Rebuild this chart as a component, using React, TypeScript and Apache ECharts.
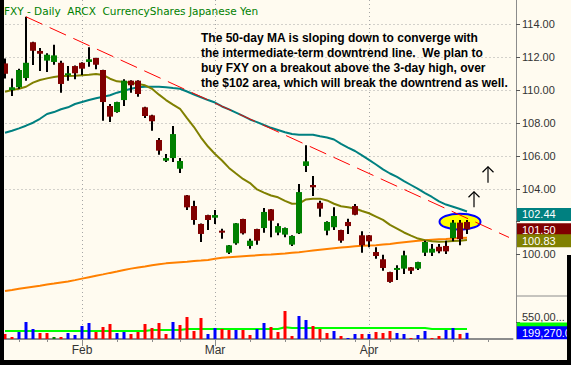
import React, { useEffect, useRef } from 'react';
import * as echarts from 'echarts';

const FONT = '"Liberation Sans", Arial, Helvetica, sans-serif';
const TITLE_FONT = '"DejaVu Sans", Verdana, sans-serif';

// trading days (last six are empty future slots)
const dates: string[] = [
  '2009-01-15', '2009-01-16', '2009-01-20', '2009-01-21', '2009-01-22', '2009-01-23', '2009-01-26', '2009-01-27', '2009-01-28', '2009-01-29', '2009-01-30',
  '2009-02-02', '2009-02-03', '2009-02-04', '2009-02-05', '2009-02-06', '2009-02-09', '2009-02-10', '2009-02-11', '2009-02-12', '2009-02-13',
  '2009-02-17', '2009-02-18', '2009-02-19', '2009-02-20', '2009-02-23', '2009-02-24', '2009-02-25', '2009-02-26', '2009-02-27',
  '2009-03-02', '2009-03-03', '2009-03-04', '2009-03-05', '2009-03-06', '2009-03-09', '2009-03-10', '2009-03-11', '2009-03-12', '2009-03-13',
  '2009-03-16', '2009-03-17', '2009-03-18', '2009-03-19', '2009-03-20', '2009-03-23', '2009-03-24', '2009-03-25', '2009-03-26', '2009-03-27',
  '2009-03-30', '2009-03-31',
  '2009-04-01', '2009-04-02', '2009-04-03', '2009-04-06', '2009-04-07', '2009-04-08', '2009-04-09', '2009-04-13', '2009-04-14', '2009-04-15',
  '2009-04-16', '2009-04-17', '2009-04-20', '2009-04-21', '2009-04-22',
  '2009-04-23', '2009-04-24', '2009-04-27', '2009-04-28', '2009-04-29', '2009-04-30',
];

const opens = [
  111.63, 110.01, 110.18, 110.74, 112.92, 112.39, 111.80, 111.72, 111.67, 110.91, 111.47,
  111.67, 111.72, 111.96, 111.23, 109.04, 108.67, 109.40, 110.58, 110.58, 108.96,
  108.47, 106.97, 105.71, 105.87, 105.22, 103.60, 102.95, 101.86, 102.40,
  102.24, 101.45, 100.11, 100.68, 102.16, 100.52, 101.55, 101.61, 102.75, 101.33,
  101.21, 100.60, 101.29, 105.39, 104.23, 103.15, 101.45, 101.66, 101.49, 101.98,
  102.95, 101.17,
  101.17, 100.15, 99.71, 98.93, 99.06, 99.14, 99.22, 99.14, 100.11, 100.11,
  100.47, 100.52, 101.00, 101.94, 101.98,
];
const closes = [
  111.00, 110.18, 111.23, 111.67, 112.40, 112.22, 112.16, 112.12, 110.38, 111.03, 111.03,
  111.31, 111.88, 111.55, 109.28, 108.39, 109.28, 110.58, 110.30, 109.77, 108.43,
  108.11, 106.32, 105.87, 107.33, 105.69, 102.87, 102.10, 101.25, 102.10,
  102.40, 101.33, 100.56, 101.90, 101.29, 100.84, 100.84, 102.59, 102.06, 101.73,
  101.61, 101.13, 103.80, 105.67, 104.09, 102.79, 101.98, 102.34, 100.84, 101.73,
  102.42, 100.56,
  100.80, 99.91, 99.18, 98.33, 99.18, 99.95, 99.01, 99.54, 100.76, 100.35,
  100.19, 100.19, 101.94, 100.93, 101.53,
];
const highs = [
  111.93, 110.72, 111.31, 114.47, 112.95, 112.57, 112.25, 112.77, 111.80, 111.47, 111.50,
  111.70, 112.61, 111.98, 111.25, 109.16, 109.30, 110.66, 110.60, 110.60, 109.00,
  108.50, 107.09, 106.12, 107.82, 105.87, 103.62, 103.27, 101.88, 102.42,
  102.71, 101.57, 100.58, 101.92, 102.18, 100.96, 101.57, 102.83, 102.77, 101.90,
  101.65, 101.17, 104.29, 106.65, 104.78, 103.27, 102.02, 102.87, 101.51, 102.18,
  103.07, 101.41,
  101.19, 100.44, 99.99, 98.95, 99.34, 100.23, 99.24, 99.56, 100.84, 100.64,
  100.64, 100.84, 102.10, 102.10, 102.10,
];
const lows = [
  110.71, 109.65, 110.09, 110.58, 111.53, 111.17, 111.11, 111.55, 109.85, 110.58, 110.66,
  110.93, 111.43, 111.27, 108.14, 108.06, 108.63, 109.04, 109.85, 109.60, 108.31,
  107.53, 106.07, 105.63, 105.63, 104.96, 102.71, 101.81, 100.76, 101.49,
  101.86, 100.96, 100.03, 100.60, 101.21, 100.35, 100.60, 101.33, 101.05, 101.17,
  101.05, 100.52, 101.25, 105.02, 103.56, 102.30, 101.17, 101.49, 100.72, 101.25,
  102.39, 100.11,
  100.44, 99.74, 99.01, 98.28, 98.45, 98.81, 98.81, 99.06, 99.91, 99.91,
  100.07, 100.03, 100.80, 100.56, 101.25,
];

// 20-day (olive), 50-day (teal) and 200-day (orange) moving averages as drawn
const ma20 = [
  109.91, 110.01, 110.09, 110.21, 110.46, 110.62, 110.72, 110.80, 110.86, 110.86, 110.88,
  110.91, 110.94, 110.99, 110.93, 110.70, 110.54, 110.50, 110.46, 110.38, 110.30,
  110.09, 109.73, 109.40, 109.12, 108.87, 108.30, 107.76, 107.12, 106.57,
  106.12, 105.72, 105.27, 104.93, 104.60, 104.35, 103.96, 103.77, 103.59, 103.48,
  103.26, 103.09, 103.10, 103.35, 103.40, 103.40, 103.29, 103.09, 102.94, 102.88,
  102.80, 102.65,
  102.51, 102.31, 102.11, 101.80, 101.58, 101.34, 101.15, 100.97, 100.87, 100.81,
  100.78, 100.79, 100.82, 100.84, 100.88,
];
const ma50 = [
  107.41, 107.53, 107.68, 107.84, 108.02, 108.26, 108.55, 108.67, 108.84, 108.96, 109.16,
  109.28, 109.40, 109.51, 109.60, 109.69, 109.85, 109.97, 110.09, 110.18, 110.21,
  110.21, 110.21, 110.18, 110.13, 110.09, 109.92, 109.74, 109.57, 109.40,
  109.25, 109.01, 108.83, 108.64, 108.44, 108.22, 108.06, 107.88, 107.71, 107.58,
  107.44, 107.33, 107.29, 107.29, 107.29, 107.20, 107.12, 107.00, 106.73, 106.51,
  106.30, 106.03,
  105.76, 105.48, 105.18, 104.93, 104.72, 104.47, 104.23, 103.99, 103.74, 103.50,
  103.23, 103.04, 102.91, 102.77, 102.62,
];
const ma200 = [
  97.78, 97.84, 97.91, 97.98, 98.04, 98.10, 98.17, 98.23, 98.30, 98.36, 98.44,
  98.53, 98.62, 98.71, 98.79, 98.88, 98.96, 99.05, 99.14, 99.21, 99.27,
  99.34, 99.40, 99.46, 99.50, 99.53, 99.56, 99.60, 99.63, 99.67,
  99.74, 99.80, 99.83, 99.86, 99.89, 99.92, 99.95, 99.98, 100.00, 100.03,
  100.06, 100.10, 100.14, 100.19, 100.24, 100.29, 100.34, 100.38, 100.42, 100.46,
  100.50, 100.53,
  100.55, 100.57, 100.61, 100.64, 100.70, 100.75, 100.79, 100.83, 100.86, 100.90,
  100.93, 100.95, 100.98, 101.00, 101.02,
];

// volume and its direction vs previous close (1 up, -1 down, 0 unchanged)
const volumes = [
  162000, 65000, 227000, 551000, 324000, 194000, 194000, 65000, 65000, 194000, 130000,
  421000, 518000, 227000, 389000, 486000, 194000, 227000, 162000, 227000, 486000,
  356000, 518000, 162000, 551000, 454000, 713000, 259000, 680000, 162000,
  356000, 324000, 292000, 292000, 292000, 130000, 324000, 518000, 389000, 227000,
  907000, 97000, 745000, 616000, 421000, 324000, 194000, 259000, 97000, 32000,
  162000, 162000,
  162000, 227000, 194000, 259000, 194000, 162000, 32000, 130000, 259000, 32000,
  97000, 292000, 356000, 162000, 199270,
];
const volumeDir = [
  -1, -1, 1, 1, 1, -1, -1, 0, -1, 1, 1,
  1, 1, -1, -1, -1, 1, 1, -1, -1, -1,
  -1, -1, -1, 1, -1, -1, -1, -1, 1,
  1, -1, -1, 1, -1, -1, 1, 1, -1, -1,
  -1, -1, 1, 1, -1, -1, -1, 1, -1, 1,
  1, -1,
  1, -1, -1, -1, 1, 1, -1, 1, 1, -1,
  -1, 1, 1, -1, 1,
];
const volumeMA = [
  259000, 259000, 259000, 259000, 259000, 259000, 259000, 259000, 259000, 259000, 259000,
  259000, 259000, 259000, 259000, 259000, 259000, 259000, 259000, 259000, 259000,
  292000, 292000, 292000, 292000, 292000, 324000, 324000, 324000, 324000,
  324000, 324000, 324000, 324000, 324000, 324000, 324000, 324000, 324000, 324000,
  378000, 356000, 356000, 356000, 356000, 356000, 356000, 356000, 356000, 356000,
  356000, 356000,
  356000, 356000, 356000, 356000, 356000, 356000, 356000, 356000, 356000, 324000,
  324000, 324000, 324000, 324000, 324000,
];

// downtrend line: [day index, price]
const trendLine = [[3, 114.47], [72, 101.04]];

const priceLabels = [100, 104, 106, 108, 110, 112, 114];
const priceTicks = [100, 102, 104, 106, 108, 110, 112, 114];
const volumeLabelValue = 550000;

const lastValueBoxes = [
  { value: 102.44, text: '102.44', color: '#008080' },
  { value: 101.5, text: '101.50', color: '#800000' },
  { value: 100.83, text: '100.83', color: '#808000' },
];
const volumeBoxes = [
  { value: 324000, text: '', color: '#00FF00' },
  { value: 199270, text: '199,270.0', color: '#0000FF' },
];

const titleText = 'FXY - Daily  ARCX  CurrencyShares Japanese Yen';
const noteLines = [
  'The 50-day MA is sloping down to converge with',
  'the intermediate-term downtrend line.  We plan to',
  'buy FXY on a breakout above the 3-day high, over',
  'the $102 area, which will break the downtrend as well.',
];
// annotation anchors in data space
const circleAnchor = { index: 65, price: 102.0 };
const arrowAnchors = [
  { index: 67, from: 102.87, to: 103.82 },
  { index: 69, from: 104.37, to: 105.34 },
];

const MONTHS = ['Jan', 'Feb', 'Mar', 'Apr', 'May', 'Jun', 'Jul', 'Aug', 'Sep', 'Oct', 'Nov', 'Dec'];

export default function App() {
  const ref = useRef<HTMLDivElement>(null);

  useEffect(() => {
    document.body.style.margin = '0';
    const chart = echarts.init(ref.current!, null, { renderer: 'svg' });

    const dows = dates.map((d) => new Date(d + 'T00:00:00Z').getUTCDay());
    const isMonthStart = (i: number) => i > 0 && dates[i].slice(5, 7) !== dates[i - 1].slice(5, 7);
    const isWeekStart = (i: number) => i > 0 && dows[i] < dows[i - 1];

    const grid = '#A6A6A6';
    const clear = 'rgba(0,0,0,0)';
    const axisGray = '#8C8C8C';

    const candleData = opens.map((o, i) => [i, o, closes[i], lows[i], highs[i]]);

    const option: any = {
      animation: false,
      backgroundColor: '#FFFBF0',
      grid: [
        { left: 1.5, width: 511, top: 0, height: 320.21 },
        { left: 1.5, width: 511, top: 296, height: 43 },
      ],
      xAxis: [
        {
          type: 'category', gridIndex: 0, data: dates, boundaryGap: true,
          axisLine: { show: false }, axisTick: { show: false }, axisLabel: { show: false },
          splitLine: { show: true, alignWithLabel: true, interval: (i: number) => isMonthStart(i), lineStyle: { color: grid, type: [1, 3], width: 1 } },
        },
        {
          type: 'category', gridIndex: 1, data: dates, boundaryGap: true, position: 'bottom',
          axisLine: { show: true, lineStyle: { color: axisGray, width: 2 } },
          axisTick: { show: true, alignWithLabel: true, interval: (i: number) => isWeekStart(i), length: 3, lineStyle: { color: axisGray, width: 1 } },
          axisLabel: { show: false },
          splitLine: { show: true, alignWithLabel: true, interval: (i: number) => isMonthStart(i), lineStyle: { color: grid, type: [1, 3], width: 1 } },
        },
        {
          type: 'category', gridIndex: 1, data: dates, boundaryGap: true, position: 'bottom',
          axisLine: { show: false },
          axisTick: { show: true, alignWithLabel: true, interval: (i: number) => isMonthStart(i), length: 7, lineStyle: { color: axisGray, width: 1 } },
          axisLabel: {
            show: true, interval: (i: number) => isMonthStart(i),
            formatter: (v: string) => MONTHS[Number(v.slice(5, 7)) - 1],
            color: '#333', fontSize: 12, fontFamily: FONT, margin: 5,
          },
          splitLine: { show: false },
        },
      ],
      yAxis: [
        {
          type: 'value', gridIndex: 0, position: 'right', offset: 3.5, min: 96, max: 115.491, interval: 2,
          axisLine: { show: true, lineStyle: { color: axisGray, width: 1 } },
          axisTick: { show: true, length: 4, customValues: priceTicks, lineStyle: { color: '#555' } },
          axisLabel: {
            show: true, customValues: priceLabels,
            formatter: (v: number) => v.toFixed(2),
            color: '#333', fontSize: 11, fontFamily: FONT, margin: 6,
          },
          splitLine: {
            show: true,
            lineStyle: { color: [clear, clear, grid, grid, grid, grid, grid, grid, grid, grid, clear], type: [1, 3], width: 1 },
          },
        },
        {
          type: 'value', gridIndex: 1, position: 'right', offset: 3.5, min: 0, max: 1393000, interval: 550000,
          axisLine: { show: true, lineStyle: { color: axisGray, width: 1 } },
          axisTick: { show: true, length: 4, customValues: [volumeLabelValue], lineStyle: { color: '#555' } },
          axisLabel: {
            show: true, customValues: [volumeLabelValue],
            formatter: () => '550,00...',
            color: '#333', fontSize: 11, fontFamily: FONT, margin: 6, verticalAlign: 'bottom',
          },
          splitLine: { show: true, lineStyle: { color: [clear, grid, clear, clear], type: [1, 3], width: 1 } },
        },
      ],
      series: [
        {
          type: 'line', name: 'MA200', xAxisIndex: 0, yAxisIndex: 0, data: ma200, showSymbol: false, symbol: 'none',
          lineStyle: { color: '#FF8000', width: 2 }, z: 2, silent: true,
        },
        {
          type: 'line', name: 'MA50', xAxisIndex: 0, yAxisIndex: 0, data: ma50, showSymbol: false, symbol: 'none',
          lineStyle: { color: '#008080', width: 2 }, z: 2, silent: true,
        },
        {
          type: 'line', name: 'MA20', xAxisIndex: 0, yAxisIndex: 0, data: ma20, showSymbol: false, symbol: 'none',
          lineStyle: { color: '#808000', width: 2 }, z: 2, silent: true,
        },
        {
          type: 'custom', name: 'FXY', xAxisIndex: 0, yAxisIndex: 0, data: candleData, z: 3,
          encode: { x: 0, y: [1, 2, 3, 4] },
          renderItem: (params: any, api: any) => {
            const i = api.value(0);
            const o = api.value(1);
            const c = api.value(2);
            const l = api.value(3);
            const h = api.value(4);
            const pO = api.coord([i, o]);
            const pC = api.coord([i, c]);
            const pL = api.coord([i, l]);
            const pH = api.coord([i, h]);
            const x = pO[0];
            const w = 6;
            const top = Math.min(pO[1], pC[1]);
            const bh = Math.max(Math.abs(pO[1] - pC[1]), 2);
            return {
              type: 'group',
              children: [
                { type: 'line', shape: { x1: x, y1: pH[1], x2: x, y2: pL[1] }, style: { stroke: '#000', lineWidth: 2 } },
                { type: 'rect', shape: { x: x - w / 2, y: top, width: w, height: bh }, style: { fill: c >= o ? '#008000' : '#800000' } },
              ],
            };
          },
        },
        {
          type: 'line', name: 'Trend', xAxisIndex: 0, yAxisIndex: 0, data: trendLine, showSymbol: false, symbol: 'none',
          lineStyle: { color: '#FF0000', width: 1, type: [18, 8] }, z: 5, silent: true,
        },
        {
          type: 'line', name: 'VolMA', xAxisIndex: 1, yAxisIndex: 1, data: volumeMA, showSymbol: false, symbol: 'none',
          lineStyle: { color: '#00FF00', width: 2 }, z: 2, silent: true,
        },
        {
          type: 'bar', name: 'Volume', xAxisIndex: 1, yAxisIndex: 1, barWidth: 3, z: 3,
          data: volumes.map((v, i) => ({
            value: v,
            itemStyle: { color: volumeDir[i] > 0 ? '#0000FF' : volumeDir[i] < 0 ? '#FF0000' : '#008000' },
          })),
        },
      ],
    };

    chart.setOption(option);

    const p0 = (x: number, y: number) => chart.convertToPixel({ gridIndex: 0 }, [x, y]) as number[];
    const p1 = (x: number, y: number) => chart.convertToPixel({ gridIndex: 1 }, [x, y]) as number[];

    const graphics: any[] = [];
    const c = p0(circleAnchor.index, circleAnchor.price);
    graphics.push({
      type: 'ellipse', z: 1, silent: true,
      shape: { cx: c[0], cy: c[1], rx: 20.5, ry: 8 },
      style: { fill: '#FFFF00', stroke: '#0000FF', lineWidth: 2 },
    });
    arrowAnchors.forEach((a) => {
      const b = p0(a.index, a.from);
      const t = p0(a.index, a.to);
      graphics.push({ type: 'line', z: 6, silent: true, shape: { x1: t[0], y1: t[1], x2: b[0], y2: b[1] }, style: { stroke: '#000', lineWidth: 1.2 } });
      graphics.push({
        type: 'polyline', z: 6, silent: true,
        shape: { points: [[t[0] - 5.5, t[1] + 5.5], [t[0], t[1]], [t[0] + 5.5, t[1] + 5.5]] },
        style: { stroke: '#000', lineWidth: 1.2, fill: null },
      });
    });
    graphics.push({
      type: 'text', z: 6, silent: true, x: 201, y: 30.5,
      style: { text: noteLines.join('\n'), fill: '#000', font: `bold 12px ${FONT}`, lineHeight: 15 },
    });
    graphics.push({
      type: 'text', z: 6, silent: true, x: 4, y: 11,
      style: { text: titleText, fill: '#008000', font: `10.5px ${TITLE_FONT}`, verticalAlign: 'middle' },
    });
    // separator in the axis strip
    graphics.push({ type: 'line', z: 6, silent: true, shape: { x1: 516, y1: 296, x2: 571, y2: 296 }, style: { stroke: axisGray, lineWidth: 1 } });

    const box = (cy: number, text: string, color: string) => {
      graphics.push({ type: 'rect', z: 10, silent: true, shape: { x: 517, y: cy - 6.5, width: 54, height: 13 }, style: { fill: color } });
      if (text) {
        graphics.push({
          type: 'text', z: 11, silent: true, x: 522, y: cy,
          style: { text, fill: '#FFFFFF', font: `11px ${FONT}`, verticalAlign: 'middle' },
        });
      }
    };
    lastValueBoxes.forEach((b) => box(p0(0, b.value)[1], b.text, b.color));
    volumeBoxes.forEach((b) => box(p1(0, b.value)[1], b.text, b.color));

    // frame
    graphics.push({ type: 'rect', z: 20, silent: true, shape: { x: 0, y: 0, width: 4, height: 365 }, style: { fill: '#000' } });
    graphics.push({ type: 'rect', z: 20, silent: true, shape: { x: 567, y: 255, width: 4, height: 110 }, style: { fill: '#000' } });
    graphics.push({ type: 'rect', z: 20, silent: true, shape: { x: 0, y: 360, width: 571, height: 5 }, style: { fill: '#000' } });

    chart.setOption({ graphic: graphics });

    return () => chart.dispose();
  }, []);

  return <div ref={ref} style={{ position: 'absolute', left: 0, top: 0, width: 571, height: 365 }} />;
}
